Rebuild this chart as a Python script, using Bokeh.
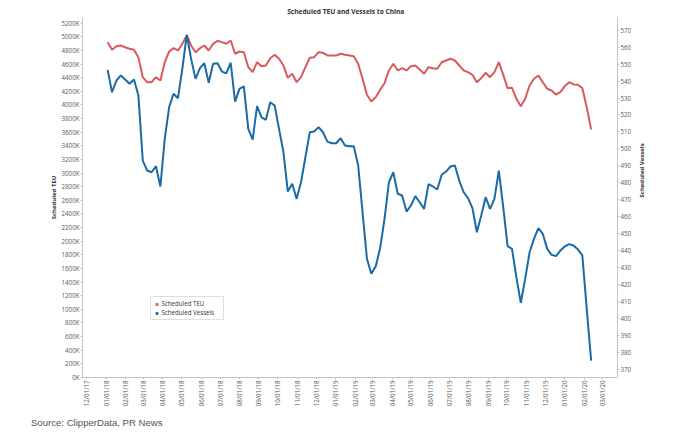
import math
import pandas as pd
from bokeh.plotting import figure
from bokeh.models import (Range1d, LinearAxis, FixedTicker, CustomJSTickFormatter,
                          DatetimeTickFormatter, Legend, LegendItem, Title, ColumnDataSource)
from bokeh.embed import file_html
from bokeh.resources import INLINE

# ---------------- data ----------------
title_text = "Scheduled TEU and Vessels to China"
source_text = "Source: ClipperData, PR News"
series_names = ["Scheduled TEU", "Scheduled Vessels"]
left_title = "Scheduled TEU"
right_title = "Scheduled Vessels"

first_week = "2018-01-03"

# Scheduled TEU, thousands (left axis)
teu_k = [4921, 4809, 4862, 4872, 4847, 4824, 4809, 4701, 4407, 4334,
         4334, 4407, 4359, 4627, 4784, 4833, 4799, 4897, 5019, 4872,
         4774, 4833, 4872, 4799, 4897, 4941, 4921, 4897, 4946, 4751,
         4784, 4774, 4554, 4481, 4627, 4569, 4579, 4686, 4736, 4677,
         4579, 4398, 4457, 4334, 4407, 4554, 4692, 4701, 4774, 4765,
         4726, 4726, 4726, 4751, 4736, 4726, 4715, 4604, 4384, 4149,
         4051, 4114, 4222, 4319, 4506, 4604, 4506, 4539, 4506, 4569,
         4579, 4520, 4457, 4554, 4539, 4530, 4627, 4652, 4677, 4652,
         4579, 4506, 4481, 4442, 4334, 4393, 4472, 4407, 4481, 4627,
         4442, 4246, 4252, 4090, 3982, 4090, 4285, 4384, 4432, 4334,
         4237, 4212, 4153, 4187, 4275, 4334, 4300, 4296, 4246, 3967,
         3640]

# Scheduled Vessels (right axis)
vessels = [546.6, 533.4, 540.3, 543.3, 540.9, 538.4, 540.9, 531.5, 493.1, 487.2,
           486.2, 489.8, 477.8, 505.9, 524.6, 532.5, 529.9, 547.2, 567.3, 553.1,
           541.3, 547.6, 550.5, 539.0, 550.2, 550.5, 545.6, 544.6, 550.8, 527.9,
           535.4, 536.8, 511.8, 505.5, 525.2, 518.7, 517.1, 527.5, 525.6, 511.8,
           498.0, 474.8, 479.4, 470.5, 480.3, 495.1, 509.8, 510.2, 512.8, 509.8,
           504.3, 503.3, 503.3, 506.3, 502.0, 501.6, 501.6, 490.2, 462.6, 435.1,
           426.3, 430.8, 441.4, 458.7, 480.3, 486.2, 473.5, 472.5, 463.0, 466.6,
           472.1, 468.5, 464.6, 479.2, 477.8, 476.0, 484.7, 486.6, 489.6, 490.2,
           481.3, 474.4, 470.9, 465.0, 450.8, 460.7, 471.5, 464.6, 470.5, 487.2,
           465.6, 442.6, 441.0, 424.3, 409.2, 423.3, 439.0, 446.9, 453.2, 449.9,
           441.0, 437.5, 436.7, 440.0, 442.4, 443.8, 443.0, 440.6, 437.1, 405.6,
           375.1]

month_ticks = pd.date_range("2017-12-01", "2020-03-01", freq="MS")
teu_ticks_k = list(range(0, 5201, 200))
vessel_ticks = list(range(370, 571, 10))

# ---------------- styling ----------------
RED = "#d9595c"
BLUE = "#1a6aa6"
AXIS_GREY = "#c4c4c4"
LABEL_GREY = "#5a5a5a"
FONT = "Open Sans"

dates = pd.date_range(first_week, periods=len(teu_k), freq="7D")
src = ColumnDataSource(dict(date=dates, teu=teu_k, vessels=vessels))

p = figure(width=684, height=432, x_axis_type="datetime",
           output_backend="svg", toolbar_location=None,
           x_range=Range1d(pd.Timestamp("2017-11-24").to_pydatetime(),
                           pd.Timestamp("2020-03-25").to_pydatetime()),
           y_range=Range1d(0, 5283),
           min_border_left=82, min_border_right=67,
           min_border_top=17, min_border_bottom=55)
p.outline_line_color = None
p.background_fill_color = "white"
p.border_fill_color = "white"
p.xgrid.visible = False
p.ygrid.visible = False

p.extra_y_ranges = {"vessels": Range1d(365.1, 577.5)}
raxis = LinearAxis(y_range_name="vessels", ticker=FixedTicker(ticks=vessel_ticks),
                   axis_label=right_title)
p.add_layout(raxis, "right")

p.yaxis[0].ticker = FixedTicker(ticks=teu_ticks_k)
p.yaxis[0].formatter = CustomJSTickFormatter(code="return Math.round(tick) + 'K';")
p.yaxis[0].axis_label = left_title

p.xaxis.ticker = FixedTicker(ticks=[t.value / 1e6 for t in month_ticks])
fmt = "%m/%d/%y"
p.xaxis.formatter = DatetimeTickFormatter(years=fmt, months=fmt, days=fmt, hours=fmt,
                                          minutes=fmt, seconds=fmt, milliseconds=fmt,
                                          microseconds=fmt, minsec=fmt, hourmin=fmt)
p.xaxis.major_label_orientation = math.pi / 2

for ax in [p.xaxis[0], p.yaxis[0], raxis]:
    ax.axis_line_color = AXIS_GREY
    ax.axis_line_width = 1
    ax.major_tick_line_color = AXIS_GREY
    ax.major_tick_out = 2
    ax.major_tick_in = 0
    ax.minor_tick_line_color = None
    ax.major_label_text_font = FONT
    ax.major_label_text_font_size = "6.2px"
    ax.major_label_text_color = LABEL_GREY
    ax.major_label_standoff = 1
    ax.axis_label_text_font = FONT
    ax.axis_label_text_font_size = "6px"
    ax.axis_label_text_font_style = "bold"
    ax.axis_label_text_color = "#333333"

p.yaxis[0].axis_label_standoff = 1
raxis.axis_label_standoff = 8
raxis.axis_label_orientation = math.pi / 2

r_teu = p.line("date", "teu", source=src, line_color=RED, line_width=2)
r_ves = p.line("date", "vessels", source=src, y_range_name="vessels",
               line_color=BLUE, line_width=2)

# legend swatches: zero-size square markers (invisible on the plot, square in the legend)
s_teu = p.scatter("date", "teu", source=src, marker="square", size=0,
                  fill_color=RED, line_color=None)
s_ves = p.scatter("date", "vessels", source=src, y_range_name="vessels",
                  marker="square", size=0, fill_color=BLUE, line_color=None)

legend = Legend(items=[LegendItem(label=series_names[0], renderers=[s_teu]),
                       LegendItem(label=series_names[1], renderers=[s_ves])],
                location=(68.4, 57), margin=0, padding=2, spacing=0,
                glyph_width=7, glyph_height=8, label_height=8, label_standoff=1,
                label_width=60,
                label_text_font=FONT, label_text_font_size="6.2px",
                label_text_color="#333333",
                border_line_color="#bdbdbd", border_line_width=1,
                background_fill_color="white", background_fill_alpha=1)
p.add_layout(legend)

p.add_layout(Title(text=title_text, align="left", offset=204.7, text_font=FONT,
                   text_font_size="6.6px", text_font_style="bold",
                   text_color="#333333", standoff=4), "above")
p.add_layout(Title(text=source_text, align="left", offset=-51.6,
                   text_font="Liberation Sans", text_font_size="9.6px",
                   text_font_style="normal", text_color="#555555",
                   standoff=10), "below")

open("out.html", "w").write(file_html(p, INLINE))
